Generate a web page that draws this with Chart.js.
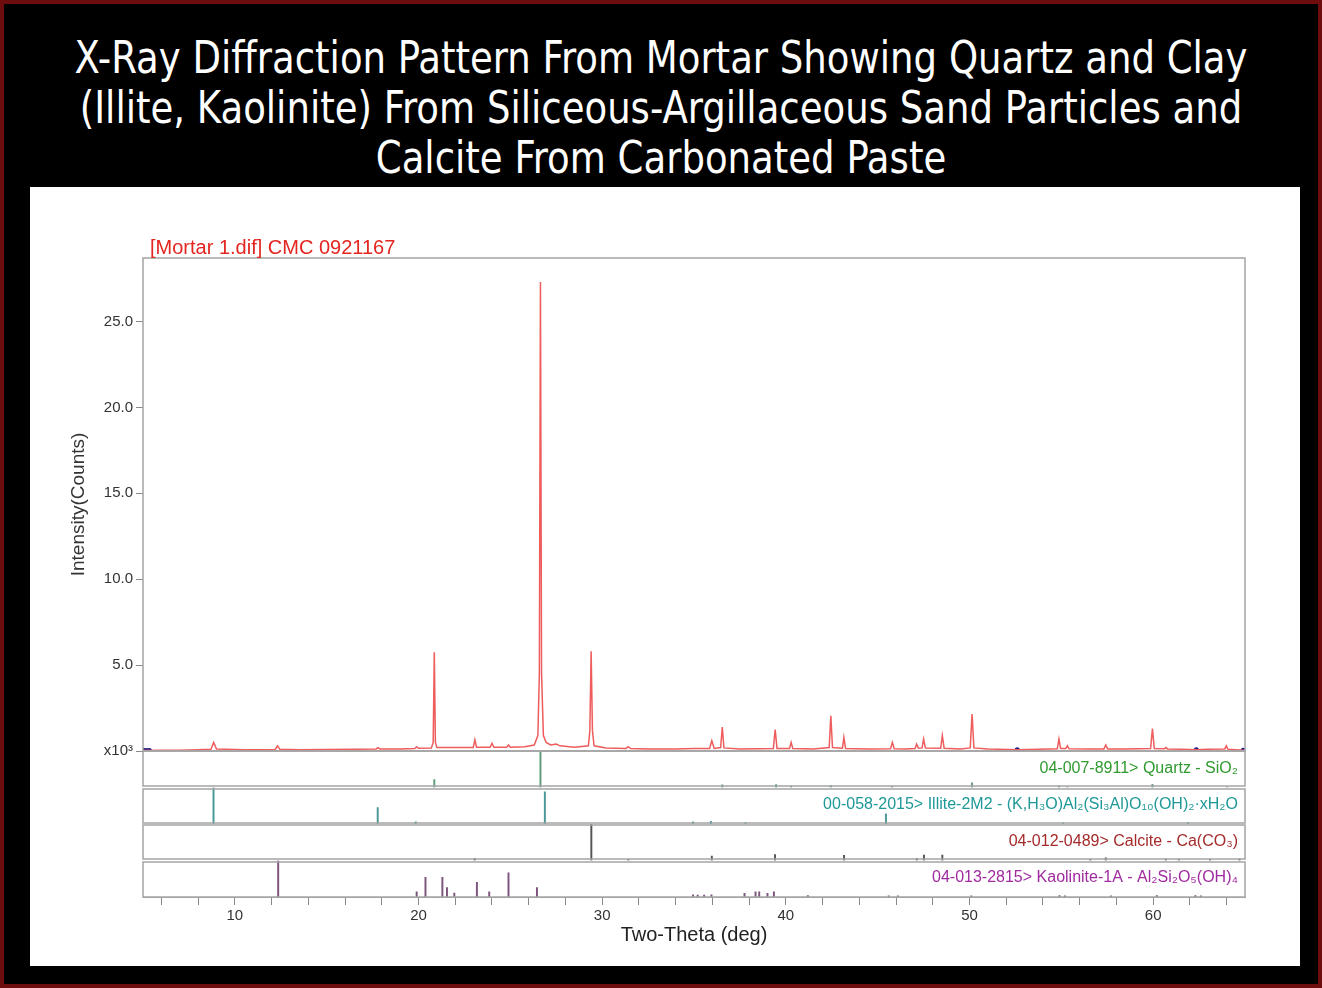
<!DOCTYPE html>
<html>
<head>
<meta charset="utf-8">
<title>X-Ray Diffraction Pattern From Mortar</title>
<script src="https://cdn.jsdelivr.net/npm/chart.js@4.4.1/dist/chart.umd.min.js"></script>
<style>
  html, body { margin: 0; padding: 0; background: #000; }
  #frame { position: relative; width: 1322px; height: 988px; box-sizing: border-box; border: 4px solid #6e0d0d; background: #000; overflow: hidden; }
  #title { position: absolute; left: 0; right: 0; top: 29px; text-align: center; color: #fff;
           font-family: "Liberation Sans Narrow", "DejaVu Sans Condensed", sans-serif; font-size: 44px; line-height: 50px;
           transform: scaleX(0.936); transform-origin: 50% 0; }
  #panel { position: absolute; left: 26px; top: 183px; width: 1270px; height: 779px; background: #fff; }
</style>
</head>
<body>
<div id="frame">
  <div id="title">X-Ray Diffraction Pattern From Mortar Showing Quartz and Clay<br>(Illite, Kaolinite) From Siliceous-Argillaceous Sand Particles and<br>Calcite From Carbonated Paste</div>
  <div id="panel"><canvas id="xrdChart" width="1270" height="779"></canvas></div>
</div>
<script>
// Scan: two-theta (deg) and intensity (x10^3 counts)
const twoTheta = [
  5.0, 6.0, 7.0, 8.0, 8.7, 8.85, 9.0, 9.5, 10.5, 11.5, 12.2, 12.32, 12.45, 13.5, 15.0, 16.5,
  17.7, 17.8, 17.9, 19.0, 19.8, 19.9, 20.0, 20.7, 20.8, 20.86, 20.92, 21.0, 21.8, 22.5,
  22.98, 23.07, 23.16, 23.9, 24.0, 24.1, 24.8, 24.9, 25.0, 25.8, 26.3, 26.5, 26.58, 26.64, 26.7, 26.8,
  26.95, 27.2, 27.5, 27.7, 28.5, 29.25, 29.33, 29.4, 29.47, 29.56, 30.2, 31.3, 31.42, 31.55,
  32.5, 34.0, 35.0, 35.85, 35.97, 36.1, 36.45, 36.54, 36.63, 37.5, 38.5, 39.32, 39.42, 39.52,
  40.2, 40.29, 40.38, 41.5, 42.36, 42.45, 42.54, 43.08, 43.16, 43.25, 44.5, 45.7, 45.8, 45.9,
  46.5, 47.04, 47.12, 47.22, 47.42, 47.5, 47.6, 48.43, 48.52, 48.62, 49.5, 50.04, 50.14, 50.24,
  51.0, 52.6, 53.8, 54.78, 54.87, 54.96, 55.24, 55.33, 55.42, 56.5, 57.32, 57.42, 57.52, 58.5,
  59.86, 59.96, 60.06, 60.6, 60.69, 60.78, 61.5, 62.35, 63.0, 63.9, 63.98, 64.07, 64.9, 65.0];
const counts = [
  0.03, 0.04, 0.05, 0.07, 0.1, 0.5, 0.12, 0.1, 0.08, 0.08, 0.09, 0.3, 0.1, 0.08, 0.09, 0.1,
  0.12, 0.2, 0.12, 0.12, 0.15, 0.25, 0.16, 0.18, 0.5, 5.75, 0.5, 0.2, 0.2, 0.2,
  0.2, 0.65, 0.22, 0.22, 0.45, 0.22, 0.22, 0.35, 0.22, 0.25, 0.35, 0.9, 4.5, 27.3, 4.5, 0.9,
  0.5, 0.35, 0.4, 0.3, 0.22, 0.3, 1.2, 5.8, 1.2, 0.3, 0.18, 0.15, 0.25, 0.14,
  0.12, 0.12, 0.14, 0.15, 0.6, 0.15, 0.2, 1.4, 0.18, 0.12, 0.13, 0.15, 1.25, 0.15,
  0.14, 0.5, 0.14, 0.12, 0.2, 2.05, 0.2, 0.16, 0.8, 0.15, 0.12, 0.13, 0.5, 0.13,
  0.12, 0.14, 0.4, 0.16, 0.18, 0.7, 0.17, 0.16, 0.9, 0.16, 0.12, 0.18, 2.15, 0.18,
  0.12, 0.07, 0.1, 0.13, 0.7, 0.14, 0.14, 0.3, 0.13, 0.12, 0.12, 0.35, 0.12, 0.12,
  0.14, 1.3, 0.14, 0.13, 0.2, 0.12, 0.1, 0.07, 0.1, 0.11, 0.3, 0.1, 0.05, 0.05];

// background points marked on the scan
const bgTheta = [5.05, 5.2, 5.35, 52.6, 62.35, 64.9];
const bgCounts = [0.03, 0.03, 0.03, 0.07, 0.07, 0.05];

// reference patterns: peak positions (deg) and relative intensities (%)
const quartzPos = [20.86, 26.64, 36.54, 39.47, 40.29, 42.45, 45.79, 50.14, 54.87, 55.33, 59.96, 64.03];
const quartzInt = [22, 100, 7, 8, 4, 6, 3, 13, 4, 2, 9, 2];
const illitePos = [8.84, 17.78, 19.85, 26.88, 34.95, 35.92, 37.8, 45.45, 55.1, 61.9];
const illiteInt = [100, 45, 6, 88, 6, 7, 4, 28, 3, 4];
const calcitePos = [23.06, 29.41, 31.42, 35.97, 39.41, 43.17, 47.13, 47.52, 48.52, 56.58, 57.42, 60.69, 61.4, 63.1, 64.7];
const calciteInt = [6, 100, 3, 12, 16, 14, 6, 15, 15, 3, 7, 4, 3, 3, 4];
const kaolinitePos = [12.36, 19.9, 20.38, 21.3, 21.55, 21.95, 23.18, 23.85, 24.9, 26.45, 34.95, 35.2, 35.55, 35.95,
  37.75, 38.35, 38.55, 39.0, 39.35, 41.2, 45.6, 46.1, 50.1, 54.9, 55.2, 57.7, 60.2, 62.3, 62.6];
const kaoliniteInt = [100, 14, 54, 54, 26, 11, 40, 14, 66, 26, 6, 5, 5, 6,
  10, 14, 14, 10, 14, 4, 3, 3, 3, 4, 3, 3, 4, 4, 3];

const phaseLabels = [
  '04-007-8911> Quartz - SiO\u2082',
  '00-058-2015> Illite-2M2 - (K,H\u2083O)Al\u2082(Si\u2083Al)O\u2081\u2080(OH)\u2082\u00B7xH\u2082O',
  '04-012-0489> Calcite - Ca(CO\u2083)',
  '04-013-2815> Kaolinite-1A - Al\u2082Si\u2082O\u2085(OH)\u2084'
];

// tick marks
const xTickMarks = [6, 8, 10, 12, 14, 16, 18, 20, 22, 24, 26, 28, 30, 32, 34, 36, 38, 40, 42, 44, 46, 48, 50, 52, 54, 56, 58, 60, 62, 64];
const xTickLabels = [10, 20, 30, 40, 50, 60];
const yTicks = [0, 5, 10, 15, 20, 25];

const FONT = '"Liberation Sans", Arial, sans-serif';

function points(xs, ys) {
    return xs.map((x, i) => ({ x: x, y: ys[i] }));
}

function stickSet(label, xs, ys, axis, color) {
    return {
        type: 'bar',
        label: label,
        data: points(xs, ys),
        yAxisID: axis,
        backgroundColor: color,
        borderWidth: 0,
        barThickness: 1.3,
        grouped: false
    };
}

function stickAxis(weight) {
    return {
        type: 'linear',
        position: 'left',
        stack: 'xrd',
        stackWeight: 36.5,
        weight: weight,
        min: 0,
        max: 100,
        ticks: { display: false },
        grid: { display: false },
        border: { display: false }
    };
}

// boxes round the scan and each reference strip, plus the strip labels
const panelFrames = {
    id: 'panelFrames',
    afterDraw(chart) {
        const { ctx, chartArea: a, scales } = chart;
        const main = scales.y;
        const strips = [
            { s: scales.yQ, top: 0, bottom: 1.5, color: '#2f9a2f' },
            { s: scales.yI, top: 1.5, bottom: 1, color: '#1f9898' },
            { s: scales.yC, top: 1, bottom: 1.5, color: '#a52a2a' },
            { s: scales.yK, top: 1.5, bottom: 0, color: '#a02aa0' }
        ];
        ctx.save();
        ctx.strokeStyle = '#a4a4a4';
        ctx.lineWidth = 1.5;
        ctx.strokeRect(a.left, main.top, a.right - a.left, main.bottom - main.top);
        ctx.font = '16px ' + FONT;
        ctx.textAlign = 'right';
        ctx.textBaseline = 'middle';
        strips.forEach((st, i) => {
            const top = st.s.top + st.top;
            const bottom = st.s.bottom - st.bottom;
            ctx.strokeRect(a.left, top, a.right - a.left, bottom - top);
            ctx.fillStyle = st.color;
            ctx.fillText(phaseLabels[i], a.right - 7, (st.s.top + st.s.bottom) / 2 - 1);
        });
        ctx.fillStyle = '#e3261f';
        ctx.font = '20px ' + FONT;
        ctx.textAlign = 'left';
        ctx.textBaseline = 'alphabetic';
        ctx.fillText('[Mortar 1.dif] CMC 0921167', a.left + 7, main.top - 4);
        ctx.restore();
    }
};

const ctx = document.getElementById('xrdChart').getContext('2d');
new Chart(ctx, {
    type: 'line',
    data: {
        datasets: [
            {
                label: 'Mortar 1',
                data: points(twoTheta, counts),
                yAxisID: 'y',
                borderColor: '#ee5c5c',
                borderWidth: 1.5,
                pointRadius: 0,
                tension: 0
            },
            {
                type: 'scatter',
                label: 'Background',
                data: points(bgTheta, bgCounts),
                yAxisID: 'y',
                backgroundColor: '#1c1c8a',
                borderWidth: 0,
                pointRadius: 2.5
            },
            stickSet('Quartz', quartzPos, quartzInt, 'yQ', '#5f9c78'),
            stickSet('Illite-2M2', illitePos, illiteInt, 'yI', '#4a9898'),
            stickSet('Calcite', calcitePos, calciteInt, 'yC', '#555555'),
            stickSet('Kaolinite-1A', kaolinitePos, kaoliniteInt, 'yK', '#7d557d')
        ]
    },
    options: {
        responsive: false,
        animation: false,
        layout: { padding: { top: 71, right: 55, bottom: 0, left: 0 } },
        plugins: {
            legend: { display: false },
            tooltip: { enabled: false }
        },
        scales: {
            x: {
                type: 'linear',
                position: 'bottom',
                min: 5,
                max: 65,
                offset: false,
                afterBuildTicks: s => { s.ticks = xTickMarks.map(v => ({ value: v })); },
                afterFit: s => { s.height = 69; },
                ticks: {
                    autoSkip: false,
                    maxRotation: 0,
                    padding: 2,
                    color: '#333',
                    font: { family: FONT, size: 15 },
                    callback: v => xTickLabels.includes(v) ? String(v) : ''
                },
                grid: { drawOnChartArea: false, drawTicks: true, tickLength: 8, color: '#888', offset: false },
                border: { display: true, color: '#a4a4a4' },
                title: {
                    display: true,
                    text: 'Two-Theta (deg)',
                    color: '#222',
                    font: { family: FONT, size: 20 },
                    padding: { top: 0, bottom: 19 }
                }
            },
            y: {
                type: 'linear',
                position: 'left',
                stack: 'xrd',
                stackWeight: 493,
                weight: 5,
                min: 0,
                max: 28.7,
                afterBuildTicks: s => { s.ticks = yTicks.map(v => ({ value: v })); },
                afterFit: s => { s.width = 113; },
                ticks: {
                    padding: 3,
                    color: '#333',
                    font: { family: FONT, size: 15 },
                    callback: v => v === 0 ? 'x10\u00B3' : v.toFixed(1)
                },
                grid: { drawOnChartArea: false, drawTicks: true, tickLength: 7, color: '#888' },
                border: { display: false },
                title: {
                    display: true,
                    text: 'Intensity(Counts)',
                    color: '#333',
                    font: { family: FONT, size: 19 },
                    padding: { top: 37, bottom: 0 }
                }
            },
            yQ: stickAxis(4),
            yI: stickAxis(3),
            yC: stickAxis(2),
            yK: stickAxis(1)
        }
    },
    plugins: [panelFrames]
});
</script>
</body>
</html>
